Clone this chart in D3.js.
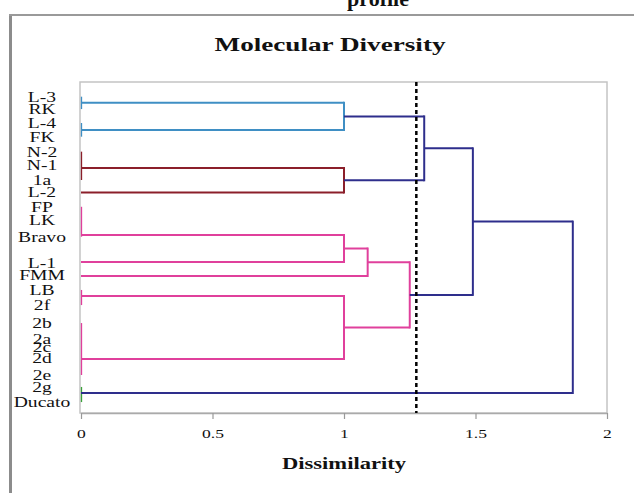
<!DOCTYPE html>
<html>
<head>
<meta charset="utf-8">
<script src="https://cdn.jsdelivr.net/npm/d3@7"></script>
<style>
  body { margin: 0; background: #fff; }
  svg { display: block; }
  text { font-family: "Liberation Serif", "Times New Roman", serif; fill: #111; }
</style>
</head>
<body>
<div id="chart"></div>
<script>
// leaf labels, top to bottom, and where each label sits on the leaf axis
const leafLabels = ["L-3", "RK", "L-4", "FK", "N-2", "N-1", "1a", "L-2", "FP", "LK", "Bravo",
  "L-1", "FMM", "LB", "2f", "2b", "2a", "2c", "2d", "2e", "2g", "Ducato"];
const leafPos = [1.02, 1.88, 2.85, 3.80, 4.84, 5.77, 6.81, 7.62, 8.67, 9.59, 10.75,
  12.58, 13.41, 14.45, 15.50, 16.75, 17.86, 18.41, 19.18, 20.36, 21.19, 22.24];

// groups of leaves joined at zero dissimilarity, and the row of their branch
const groupLeaves = [["L-3", "RK"], ["L-4", "FK"], ["N-2", "N-1", "1a"], ["L-2"],
  ["FP", "LK", "Bravo"], ["L-1"], ["FMM"], ["LB", "2f"], ["2b", "2a", "2c", "2d", "2e"], ["2g", "Ducato"]];
const groupPos = [1.44, 3.34, 5.98, 7.68, 10.63, 12.51, 13.48, 14.87, 19.25, 21.61];

// merges: [node, child a, child b, dissimilarity]
const merges = [
  ["A", "g0", "g1", 1.00],
  ["B", "g2", "g3", 1.00],
  ["C", "A", "B", 1.305],
  ["D", "g4", "g5", 1.00],
  ["E", "D", "g6", 1.09],
  ["F", "g7", "g8", 1.00],
  ["G", "E", "F", 1.25],
  ["H", "C", "G", 1.49],
  ["R", "H", "g9", 1.87]
];
const cutLevel = 1.275;

const xTicks = [0, 0.5, 1, 1.5, 2];
const xTickLabels = ["0", "0.5", "1", "1.5", "2"];

// colours
const clusterColor = { A: "#3f8fc4", B: "#8b1f2a", C: "#2e2e8c", D: "#e0409c", E: "#e0409c",
  F: "#e0409c", G: "#e0409c", H: "#2e2e8c", R: "#2e2e8c" };
const groupColor = ["#3f8fc4", "#3f8fc4", "#8b1f2a", "#8b1f2a", "#e0409c", "#e0409c",
  "#e0409c", "#e0409c", "#e0409c", "#3aa03a"];

const W = 634, H = 493;
const plot = { left: 81, right: 607, top: 82, bottom: 413 };

const svg = d3.select("#chart").append("svg")
  .attr("width", W).attr("height", H);

// outer frame of the figure
svg.append("line").attr("x1", 10.5).attr("x2", 10.5).attr("y1", 15).attr("y2", H)
  .attr("stroke", "#8c8c8c").attr("stroke-width", 3);
svg.append("line").attr("x1", 9).attr("x2", W).attr("y1", 15).attr("y2", 15)
  .attr("stroke", "#9a9a9a").attr("stroke-width", 2);

// cropped caption above the figure
svg.append("text").attr("x", 378).attr("y", 6)
  .attr("text-anchor", "middle").attr("font-weight", "bold").attr("font-size", 22)
  .text("profile");

svg.append("text").attr("x", 330).attr("y", 51)
  .attr("text-anchor", "middle").attr("font-weight", "bold").attr("font-size", 18)
  .attr("textLength", 231).attr("lengthAdjust", "spacingAndGlyphs")
  .text("Molecular Diversity");

const x = d3.scaleLinear().domain([0, 2]).range([plot.left, plot.right]);
const y = d3.scaleLinear().domain([0, 23]).range([plot.top, plot.bottom]);

// plot box
svg.append("rect")
  .attr("x", plot.left - 1).attr("y", plot.top)
  .attr("width", plot.right - plot.left + 1).attr("height", plot.bottom - plot.top)
  .attr("fill", "none").attr("stroke", "#c4c4c4").attr("stroke-width", 1.5);

// x axis
const xAxis = svg.append("g")
  .attr("transform", `translate(0,${plot.bottom})`)
  .call(d3.axisBottom(x).tickValues(xTicks)
    .tickFormat((d, i) => xTickLabels[i]).tickSize(6).tickPadding(10).tickSizeOuter(0));
xAxis.select(".domain").attr("stroke", "#aaa").attr("stroke-width", 1.5);
xAxis.selectAll(".tick line").attr("stroke", "#999").attr("stroke-width", 1.2);
xAxis.selectAll(".tick text")
  .attr("font-family", "Liberation Serif, serif").attr("font-size", 13).attr("fill", "#222")
  .attr("transform", "scale(1.35,1)");

svg.append("text").attr("x", 344).attr("y", 469)
  .attr("text-anchor", "middle").attr("font-weight", "bold").attr("font-size", 17)
  .attr("textLength", 124).attr("lengthAdjust", "spacingAndGlyphs")
  .text("Dissimilarity");

// leaf labels
svg.append("g").selectAll("text")
  .data(leafLabels)
  .join("text")
  .attr("transform", (d, i) => `translate(42,${y(leafPos[i])}) scale(1.4,1)`)
  .attr("text-anchor", "middle").attr("dy", "0.35em").attr("font-size", 14)
  .text(d => d);

// build node table
const nodes = {};
groupLeaves.forEach((g, i) => {
  const ys = g.map(l => leafPos[leafLabels.indexOf(l)]);
  nodes["g" + i] = { h: 0, y: groupPos[i], y0: d3.min(ys), y1: d3.max(ys), color: groupColor[i] };
});
merges.forEach(([id, a, b, h]) => {
  nodes[id] = { h: h, y: (nodes[a].y + nodes[b].y) / 2, a: a, b: b, color: clusterColor[id] };
});

const tree = svg.append("g").attr("fill", "none").attr("stroke-width", 2);

// small zero-height joins at the leaves
groupLeaves.forEach((g, i) => {
  const n = nodes["g" + i];
  if (g.length > 1) {
    tree.append("line")
      .attr("x1", x(0) + 0.5).attr("x2", x(0) + 0.5)
      .attr("y1", y(n.y0)).attr("y2", y(n.y1))
      .attr("stroke", n.color).attr("stroke-width", 1.3);
  }
});

// branches: each child horizontal to its parent, then the parent vertical
merges.forEach(([id, a, b, h]) => {
  const p = nodes[id];
  [a, b].forEach(c => {
    tree.append("line")
      .attr("x1", x(nodes[c].h)).attr("x2", x(h))
      .attr("y1", y(nodes[c].y)).attr("y2", y(nodes[c].y))
      .attr("stroke", p.color);
  });
  tree.append("line")
    .attr("x1", x(h)).attr("x2", x(h))
    .attr("y1", y(nodes[a].y) - 1).attr("y2", y(nodes[b].y) + 1)
    .attr("stroke", p.color);
});

// cut level
svg.append("line")
  .attr("x1", x(cutLevel)).attr("x2", x(cutLevel))
  .attr("y1", plot.top).attr("y2", plot.bottom)
  .attr("stroke", "#000").attr("stroke-width", 2.5).attr("stroke-dasharray", "4,3");
</script>
</body>
</html>
